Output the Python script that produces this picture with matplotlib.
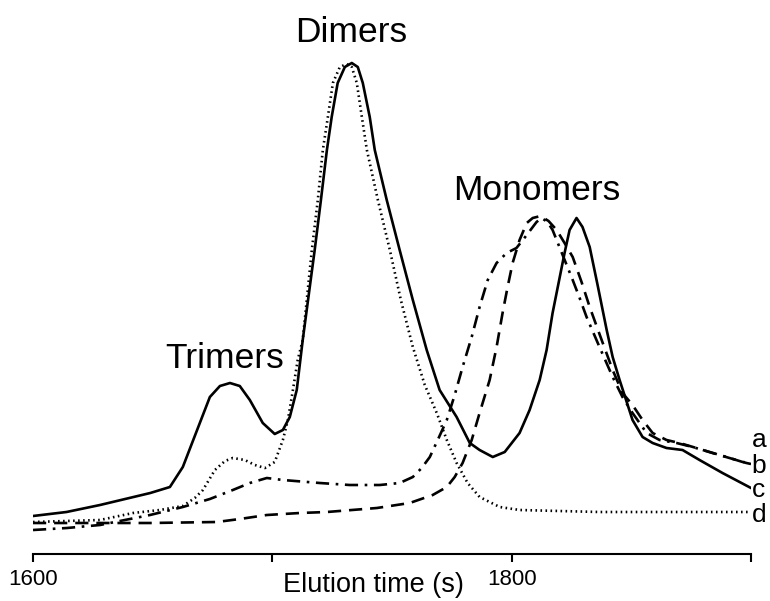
import numpy as np
import matplotlib
matplotlib.use("Agg")
import matplotlib.pyplot as plt

plt.rcParams['font.family'] = ['Liberation Sans', 'DejaVu Sans']

# curva c (linea continua)
t_c = [1600, 1614, 1628, 1642, 1649, 1657.2, 1662.6, 1669.7, 1673.9, 1678.1,
       1682.3, 1686.4, 1690.6, 1696, 1701, 1704.4, 1707.3, 1710.2, 1712.7, 1715.2,
       1717.7, 1720.3, 1722.8, 1724.8, 1727.3, 1730.3, 1733.2, 1735.7, 1737.8, 1740.7,
       1742.8, 1747.8, 1753.2, 1758.7, 1764.5, 1769.9, 1777, 1782.5, 1786.6, 1792.1,
       1797.1, 1803.3, 1807.5, 1811.7, 1814.6, 1817.1, 1819.6, 1822.1, 1824.2, 1827.1,
       1829.6, 1832.6, 1835.9, 1839.7, 1842.2, 1845.1, 1850.5, 1854.7, 1858.9, 1864.7,
       1871.4, 1878.5, 1888.1, 1900]
y_c = [38, 42, 49, 57, 61, 67, 87, 131, 157, 168,
       171, 168, 154, 131, 120, 124, 137, 164, 214, 259,
       304, 354, 404, 437, 471, 487, 491, 487, 471, 437,
       404, 354, 304, 254, 204, 164, 137, 111, 104, 97,
       102, 121, 144, 174, 204, 241, 271, 301, 324, 336,
       327, 307, 269, 224, 197, 174, 134, 117, 111, 106,
       104, 94, 81, 66]

# curva d (punteada)
t_d = [1600, 1628, 1641.8, 1653, 1662.6, 1667.6, 1671, 1676, 1680.2, 1683.5,
       1688.5, 1692.7, 1696.9, 1701, 1704.4, 1706.5, 1708.6, 1710.6, 1712.7, 1716.5,
       1719, 1721.1, 1723.2, 1725.3, 1728.2, 1731.1, 1733.2, 1735.3, 1737.4, 1739.5,
       1744.1, 1749.1, 1753.7, 1758.7, 1763.7, 1768.7, 1772.9, 1777, 1781.6, 1786.6,
       1795, 1803.3, 1836.7, 1900]
y_d = [32, 34, 41, 44, 48, 56, 64, 84, 93, 96,
       94, 89, 86, 92, 114, 134, 164, 194, 214, 304,
       354, 404, 437, 471, 487, 490, 487, 471, 437, 404,
       354, 304, 254, 207, 169, 141, 114, 91, 71, 57,
       47, 44, 42, 42]

# curva a (discontinua)
t_a = [1600, 1628, 1648.9, 1676.8, 1686.4, 1697.7, 1711.5, 1722.8, 1743.7, 1757.4,
       1767, 1772.9, 1776.2, 1779.5, 1783.3, 1786.6, 1790.8, 1793.7, 1796.2, 1798.3,
       1800.4, 1803.3, 1806.3, 1808.8, 1812.1, 1815.4, 1818.8, 1822.1, 1825.5, 1829.2,
       1832.6, 1837.6, 1842.2, 1846.3, 1850.5, 1854.7, 1858.9, 1864.7, 1870.1, 1877.2,
       1883.9, 1891, 1898.1, 1900]
y_a = [31, 31, 31, 32, 35, 39, 41, 42, 46, 51,
       59, 67, 77, 91, 114, 141, 174, 207, 241, 267,
       291, 314, 331, 336, 338, 333, 324, 311, 297, 272,
       247, 214, 184, 161, 149, 134, 121, 114, 111, 106,
       101, 96, 91, 90]

# curva b (punto y raya)
t_b = [1600, 1614.2, 1628, 1638.4, 1648.9, 1662.6, 1673.9, 1683.5, 1690.6, 1697.7,
       1704.4, 1719.8, 1732.3, 1744.9, 1753.2, 1758.7, 1762.4, 1765.8, 1769.1, 1772.9,
       1776.2, 1779.5, 1783.3, 1786.6, 1790, 1793.7, 1797.9, 1802, 1806.3, 1810.4,
       1812.5, 1815, 1817.1, 1821.3, 1825.5, 1828.4, 1831.3, 1836.7, 1842.2, 1846.3,
       1850.5, 1856.4, 1861.8, 1868.9, 1875.6, 1882.7, 1889.8, 1896.5, 1900]
y_b = [24, 26, 29, 34, 39, 47, 55, 64, 71, 76,
       74, 71, 69, 69, 71, 77, 86, 97, 114, 134,
       159, 187, 217, 247, 274, 291, 301, 306, 319, 332,
       336, 332, 324, 299, 274, 256, 237, 207, 177, 157,
       141, 121, 114, 111, 107, 102, 97, 92, 91]

fig = plt.figure(figsize=(7.7, 6.01), dpi=100)
ax = fig.add_axes([33 / 770, 47 / 601, 718 / 770, 554 / 601])

lw = 1.9
estilo = dict(color='black', linewidth=lw, solid_joinstyle='round', dash_joinstyle='round')
ax.plot(t_c, y_c, linestyle='-', **estilo)
ax.plot(t_d, y_d, linestyle=(0, (0.6, 1.3)), **estilo)
ax.plot(t_a, y_a, linestyle=(0, (5, 3)), **estilo)
ax.plot(t_b, y_b, linestyle=(0, (5, 2.5, 1, 2.5)), **estilo)

ax.set_xlim(1600, 1900)
ax.set_ylim(0, 554)

for s in ['left', 'right', 'top']:
    ax.spines[s].set_visible(False)
ax.spines['bottom'].set_linewidth(1.5)
ax.set_yticks([])
ax.set_xticks([1600, 1700, 1800, 1900])
ax.set_xticklabels(['1600', '', '1800', ''])
ax.tick_params(axis='x', direction='out', length=6, width=1.5, pad=5, labelsize=16)

# etiquetas de picos
ax.text(1733, 521, 'Dimers', fontsize=25.5, ha='center', va='center')
ax.text(1680.2, 196, 'Trimers', fontsize=25.5, ha='center', va='center')
ax.text(1810.4, 364, 'Monomers', fontsize=25.5, ha='center', va='center')

# letras de las curvas
for lab, yy in zip(['a', 'b', 'c', 'd'], [114, 88, 64, 39]):
    ax.text(1900.3, yy, lab, fontsize=19, ha='left', va='center', clip_on=False)

fig.text(373 / 770, 1 - 585 / 601, 'Elution time (s)', fontsize=19.5, ha='center', va='center')

fig.savefig('out.png', dpi=100)
